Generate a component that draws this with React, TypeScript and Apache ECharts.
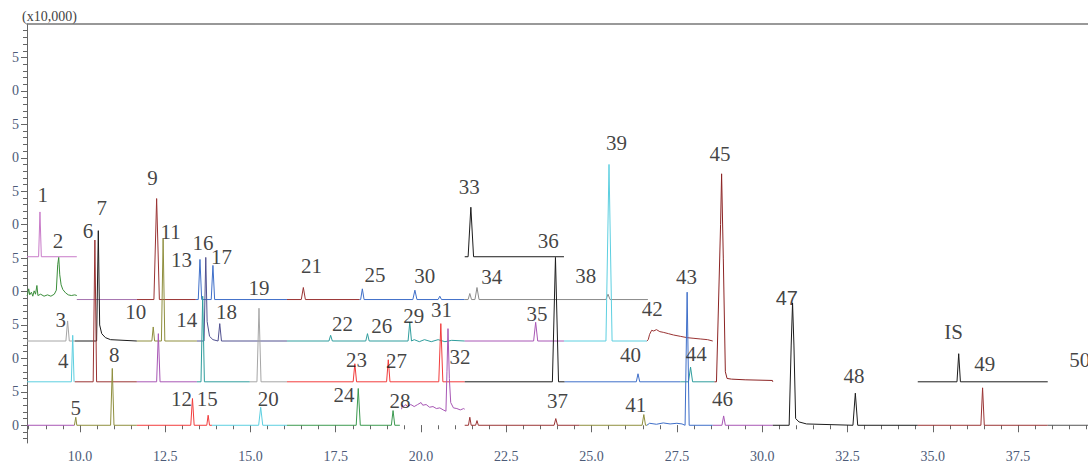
import { useEffect, useRef } from "react";
import * as echarts from "echarts";

// ---- axis ranges & tick labels ----
const xRange = [8.45, 39.55];
const yRange = [-2.65, 60];
const xTickLabels = [10, 12.5, 15, 17.5, 20, 22.5, 25, 27.5, 30, 32.5, 35, 37.5];
const yTickLabels = [0, 5, 10, 15, 20, 25, 30, 35, 40, 45, 50, 55];

// ---- baselines of the stacked traces (x10,000) ----
const baselines: Record<string, number> = {
  L1: 25.2, L2: 19.4, L3: 18.8, L4: 25.2, L5: 12.6, L6: 6.5, L7: 0, L7N: 2.4, IS: 6.5,
};

// ---- trace segments: [id, level, from (min), to (min)] ----
const segments: [string, string, number, number][] = [
  ["l1", "L1", 8.45, 9.91],
  ["l2", "L2", 8.45, 9.91],
  ["l3a", "L3", 9.91, 11.67], ["l3b", "L3", 11.67, 13.4], ["l3c", "L3", 13.4, 16.07],
  ["l3d", "L3", 16.07, 18.2], ["l3e", "L3", 18.2, 21.28], ["l3f", "L3", 21.28, 26.65],
  ["l4", "L4", 21.28, 24.19],
  ["l5a", "L5", 8.45, 9.85], ["l5b", "L5", 9.85, 11.67], ["l5c", "L5", 11.67, 13.43],
  ["l5d", "L5", 13.43, 16.07], ["l5e", "L5", 16.07, 21.28], ["l5f", "L5", 21.28, 24.19],
  ["l5g", "L5", 24.19, 26.62], ["l5h", "L5", 26.62, 28.55],
  ["l6a", "L6", 8.45, 9.85], ["l6b", "L6", 9.85, 11.67], ["l6c", "L6", 11.67, 13.43],
  ["l6d", "L6", 13.43, 14.98], ["l6e", "L6", 14.98, 16.07], ["l6f", "L6", 16.07, 21.28],
  ["l6g", "L6", 21.28, 24.21], ["l6h", "L6", 24.21, 27.6], ["l6i", "L6", 27.6, 28.6],
  ["l6j", "L6", 28.6, 30.31],
  ["l7a", "L7", 8.45, 9.84], ["l7b", "L7", 9.84, 11.67], ["l7c", "L7", 11.67, 13.87],
  ["l7d", "L7", 13.87, 16.07], ["l7e", "L7", 16.07, 19.38], ["l7n", "L7N", 19.43, 21.28],
  ["l7f", "L7", 21.28, 24.65], ["l7g", "L7", 24.65, 26.62], ["l7h", "L7", 26.62, 28.55],
  ["l7i", "L7", 28.55, 30.31], ["l7j", "L7", 30.31, 34.56], ["l7k", "L7", 34.56, 38.37],
  ["l7l", "L7", 38.37, 39.6],
  ["is", "IS", 34.56, 38.37],
];

// ---- peaks: [retention time, apex, half width] ----
const peaks: Record<string, number[][]> = {
  l1: [[8.83, 31.9, 0.04]],
  l3b: [[12.25, 33.9, 0.08]],
  l3c: [[13.52, 24.8, 0.05], [13.9, 23.9, 0.05]],
  l3d: [[16.55, 20.6, 0.06]],
  l3e: [[18.28, 20.4, 0.05], [19.82, 20.2, 0.06], [20.55, 19.3, 0.05]],
  l3f: [[21.43, 19.7, 0.05], [21.64, 20.6, 0.06], [25.48, 19.6, 0.06]],
  l4: [[21.46, 32.6, 0.08]],
  l5a: [[9.64, 15.6, 0.05]],
  l5c: [[12.15, 14.7, 0.04], [12.44, 27.9, 0.05]],
  l5d: [[14.1, 15.2, 0.05]],
  l5e: [[17.35, 13.45, 0.05], [18.43, 13.7, 0.05], [19.67, 15.4, 0.05]],
  l5f: [[23.36, 15.4, 0.06]],
  l5g: [[25.51, 39.0, 0.09]],
  l6a: [[9.79, 13.45, 0.04]],
  l6b: [[10.44, 27.7, 0.05]],
  l6c: [[12.3, 13.7, 0.05]],
  l6d: [[13.6, 19.3, 0.05]],
  l6e: [[15.25, 17.5, 0.06]],
  l6f: [[18.06, 9.2, 0.05], [19.04, 9.8, 0.05], [20.58, 15.2, 0.06]],
  l6g: [[23.94, 25.1, 0.09]],
  l6h: [[26.36, 7.7, 0.05]],
  l6i: [[27.9, 8.7, 0.06]],
  l7b: [[9.88, 1.2, 0.03], [10.95, 8.5, 0.05]],
  l7c: [[13.3, 4.0, 0.05], [13.76, 1.5, 0.04]],
  l7d: [[15.3, 2.7, 0.06]],
  l7e: [[18.16, 5.5, 0.06], [19.18, 2.2, 0.05]],
  l7f: [[21.43, 1.2, 0.04], [21.64, 0.7, 0.04], [23.95, 1.0, 0.05]],
  l7g: [[26.53, 1.6, 0.05]],
  l7h: [[27.8, 19.9, 0.06]],
  l7i: [[28.87, 1.4, 0.05]],
  l7j: [[32.73, 4.8, 0.07]],
  l7k: [[36.46, 5.6, 0.05]],
  is: [[35.76, 10.7, 0.05]],
};

// ---- extra read points (noise, tails, humps) ----
const extraPoints: Record<string, number[][]> = {
  l2: [[8.47, 19.6], [8.5, 20.4], [8.53, 19.5], [8.58, 19.9], [8.62, 19.3], [8.66, 20.1], [8.7, 19.6],
    [8.74, 20.9], [8.77, 19.4], [8.85, 19.6], [8.95, 19.3], [9.05, 19.5], [9.15, 19.3], [9.25, 19.6],
    [9.31, 20.2], [9.35, 24.0], [9.38, 25.1], [9.41, 22.5], [9.45, 21.0], [9.5, 20.3], [9.58, 19.8],
    [9.66, 19.5], [9.75, 19.4], [9.85, 19.5]],
  l5b: [[10.49, 12.6], [10.54, 29.1], [10.58, 15.0], [10.64, 13.7], [10.75, 13.1], [10.9, 12.8]],
  l5d: [[13.64, 12.6], [13.69, 25.1], [13.73, 15.5], [13.8, 13.3], [13.9, 12.8]],
  l5e: [[19.8, 12.8], [19.95, 12.5], [20.1, 12.8], [20.3, 12.5], [20.5, 12.8], [20.7, 12.5], [20.9, 12.7]],
  l5h: [[26.66, 12.8], [26.7, 13.6], [26.76, 14.2], [26.82, 14.1], [26.9, 14.3], [27.0, 14.0],
    [27.1, 13.9], [27.25, 13.7], [27.4, 13.5], [27.6, 13.3], [27.8, 13.1], [28.0, 13.0], [28.2, 12.9],
    [28.4, 12.8]],
  l6j: [[28.66, 6.5], [28.78, 30.0], [28.81, 37.6], [28.86, 25.0], [28.92, 8.0], [28.97, 7.0],
    [29.1, 6.9], [29.5, 6.8], [30.3, 6.7]],
  l7n: [[19.45, 3.0], [19.5, 2.8], [19.55, 3.1], [19.6, 2.8], [19.7, 3.1], [19.8, 2.8], [19.9, 3.1],
    [20.0, 3.4], [20.05, 3.0], [20.15, 3.1], [20.25, 2.7], [20.35, 2.8], [20.45, 2.5], [20.55, 2.6],
    [20.65, 2.3], [20.73, 2.1], [20.76, 8.0], [20.79, 14.45], [20.83, 7.0], [20.87, 3.4], [20.95, 2.6],
    [21.05, 2.5], [21.15, 2.3], [21.25, 2.5]],
  l7h: [[26.7, 0.3], [26.9, 0.15], [27.1, 0.35], [27.3, 0.2], [27.5, 0.3], [27.65, 0.2]],
  l7j: [[30.79, 0], [30.85, 12.0], [30.89, 18.3], [30.93, 12.0], [30.98, 1.0], [31.08, 0.5], [31.3, 0.2]],
};

// ---- peak labels: [text, time, height] ----
const peakLabels: [string, number, number][] = [
  ["1", 8.91, 34.4], ["2", 9.36, 27.5], ["3", 9.44, 15.7], ["4", 9.51, 9.6], ["5", 9.88, 2.6],
  ["6", 10.24, 29.1], ["7", 10.64, 32.5], ["8", 11.01, 10.5], ["9", 12.13, 36.9], ["10", 11.64, 16.9],
  ["11", 12.66, 28.9], ["12", 12.98, 3.9], ["13", 12.98, 24.7], ["14", 13.13, 15.8], ["15", 13.73, 3.9],
  ["16", 13.61, 27.2], ["17", 14.15, 25.2], ["18", 14.3, 16.9], ["19", 15.25, 20.6], ["20", 15.52, 3.9],
  ["21", 16.79, 23.8], ["22", 17.7, 15.2], ["23", 18.11, 9.8], ["24", 17.74, 4.5], ["25", 18.65, 22.4],
  ["26", 18.85, 14.9], ["27", 19.28, 9.6], ["28", 19.38, 3.6], ["29", 19.79, 16.4], ["30", 20.11, 22.3],
  ["31", 20.6, 17.2], ["32", 21.14, 10.2], ["33", 21.41, 35.6], ["34", 22.07, 22.2], ["35", 23.4, 16.6],
  ["36", 23.73, 27.5], ["37", 24.0, 3.6], ["38", 24.83, 22.3], ["39", 25.73, 42.2], ["40", 26.14, 10.5],
  ["41", 26.29, 3.0], ["42", 26.78, 17.4], ["43", 27.78, 22.2], ["44", 28.07, 10.7], ["45", 28.76, 40.6],
  ["46", 28.84, 3.9], ["47", 30.72, 19.1], ["48", 32.69, 7.3], ["IS", 35.61, 13.9], ["49", 36.52, 9.2],
  ["50", 39.31, 9.7],
];

// ---- styles ----
const C = {
  pink: "#c87ac8", green: "#3b8e3b", mauve: "#a673b0", darkred: "#9a3434", blue: "#3f6fc9",
  gray: "#8c8c8c", black: "#1c1c1c", lightgray: "#a6a6a6", olive: "#8f8f3e", navy: "#50508f",
  teal: "#2f9d9d", purple: "#a857b5", cyan: "#5dcfe0", red: "#f23c3c", maroon: "#8c2424",
  green2: "#3c9a50", darkgray: "#555555",
};
const segmentColors: Record<string, string> = {
  l1: C.pink, l2: C.green, l3a: C.mauve, l3b: C.darkred, l3c: C.blue, l3d: C.darkred, l3e: C.blue,
  l3f: C.gray, l4: C.black, l5a: C.lightgray, l5b: C.black, l5c: C.olive, l5d: C.navy, l5e: C.teal,
  l5f: C.purple, l5g: C.cyan, l5h: C.darkred, l6a: C.cyan, l6b: C.darkred, l6c: C.purple, l6d: C.teal,
  l6e: C.lightgray, l6f: C.red, l6g: C.black, l6h: C.blue, l6i: C.teal, l6j: C.maroon,
  l7a: C.purple, l7b: C.olive, l7c: C.red, l7d: C.cyan, l7e: C.green2, l7n: C.purple, l7f: C.darkred,
  l7g: C.olive, l7h: C.blue, l7i: C.purple, l7j: C.black, l7k: C.darkred, l7l: C.darkgray, is: C.black,
};

function tracePoints(id: string, level: string, from: number, to: number) {
  const b = baselines[level];
  const pts: number[][] = [[from, b], [to, b]];
  (peaks[id] || []).forEach(([t, h, w]) => {
    pts.push([t - w, b], [t, h], [t + w, b]);
  });
  (extraPoints[id] || []).forEach((p) => pts.push(p));
  return pts.sort((a, c) => a[0] - c[0]);
}

const minorX: number[] = [];
for (let v = 8.5; v <= 39.5; v += 0.5) minorX.push(v);
const minorY: number[] = [];
for (let v = -2; v <= 59; v += 1) minorY.push(v);

const tickColor = "#666";
const labelColor = "#4d5b78";

export default function App() {
  const ref = useRef<HTMLDivElement>(null);
  useEffect(() => {
    if (!ref.current) return;
    const chart = echarts.init(ref.current, undefined, { renderer: "svg" });
    const lineSeries = segments.map(([id, level, from, to]) => ({
      type: "line",
      data: tracePoints(id, level, from, to),
      showSymbol: false,
      symbol: "none",
      silent: true,
      lineStyle: { color: segmentColors[id], width: 1 },
      z: 2,
    }));
    chart.setOption({
      animation: false,
      backgroundColor: "#ffffff",
      grid: { left: 27, right: 0, top: 24, bottom: 25 },
      xAxis: [
        {
          type: "value", min: xRange[0], max: xRange[1], position: "bottom",
          axisLine: { show: false }, splitLine: { show: false },
          axisTick: { show: true, customValues: minorX, length: 4, lineStyle: { color: tickColor } },
          axisLabel: { show: false },
        },
        {
          type: "value", min: xRange[0], max: xRange[1], position: "bottom",
          axisLine: { show: false }, splitLine: { show: false },
          axisTick: { show: true, customValues: xTickLabels, length: 7, lineStyle: { color: tickColor } },
          axisLabel: {
            show: true, customValues: xTickLabels, margin: 6,
            formatter: (v: number) => v.toFixed(1),
            color: labelColor, fontFamily: "Liberation Serif", fontSize: 14,
          },
        },
        {
          type: "value", min: xRange[0], max: xRange[1], position: "top",
          axisLine: { show: true, lineStyle: { color: "#777", width: 1.5 } },
          axisTick: { show: false }, axisLabel: { show: false }, splitLine: { show: false },
        },
      ],
      yAxis: [
        {
          type: "value", min: yRange[0], max: yRange[1], position: "left",
          axisLine: { show: true, lineStyle: { color: tickColor } }, splitLine: { show: false },
          axisTick: { show: true, customValues: minorY, length: 4, lineStyle: { color: tickColor } },
          axisLabel: { show: false },
        },
        {
          type: "value", min: yRange[0], max: yRange[1], position: "left",
          axisLine: { show: false }, splitLine: { show: false },
          axisTick: { show: true, customValues: yTickLabels, length: 6, lineStyle: { color: tickColor } },
          axisLabel: {
            show: true, customValues: yTickLabels, margin: 8,
            formatter: (v: number) => String(v % 10),
            color: labelColor, fontFamily: "Liberation Serif", fontSize: 14,
          },
        },
      ],
      graphic: [
        {
          type: "text", left: 22, top: 9,
          style: { text: "(x10,000)", font: '14px "Liberation Serif"', fill: "#444" },
        },
      ],
      series: [
        ...lineSeries,
        {
          type: "scatter",
          symbolSize: 1,
          itemStyle: { color: "rgba(0,0,0,0)" },
          silent: true,
          z: 5,
          data: peakLabels.map(([n, t, v]) => ({
            name: n,
            value: [t, v],
            label: n === "47" ? { fontFamily: "Liberation Sans", fontSize: 20 } : undefined,
          })),
          label: {
            show: true, position: "inside", formatter: "{b}",
            fontFamily: "Liberation Serif", fontSize: 21, color: "#111",
          },
        },
      ],
    });
    return () => chart.dispose();
  }, []);
  return (
    <div style={{ position: "absolute", left: 0, top: 0, width: 1088, height: 468, overflow: "hidden" }}>
      <div ref={ref} style={{ width: 1088, height: 468 }} />
    </div>
  );
}
